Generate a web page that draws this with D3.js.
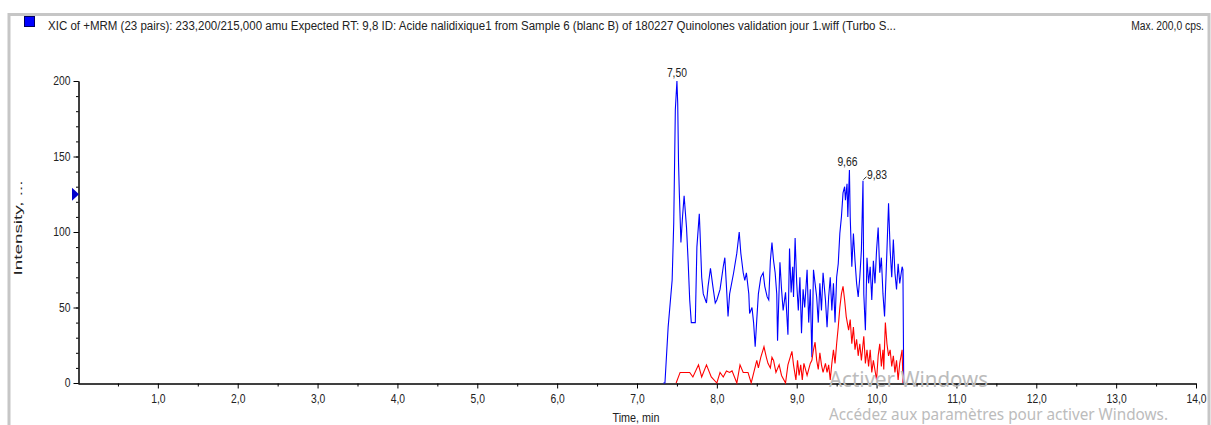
<!DOCTYPE html>
<html>
<head>
<meta charset="utf-8">
<script src="https://cdn.jsdelivr.net/npm/d3@7"></script>
<style>
body { margin: 0; background: #fff; }
svg { display: block; font-family: "Liberation Sans", Arial, sans-serif; }
</style>
</head>
<body>
<svg width="1211" height="425"></svg>
<script>
// XIC trace (blue), time in min / intensity in cps
const blueTimes = [7.33,7.35,7.39,7.44,7.46,7.47,7.48,7.50,7.51,7.52,7.53,7.55,7.57,7.59,7.62,7.64,7.66,7.68,
  7.73,7.75,7.78,7.79,7.81,7.83,7.87,7.89,7.92,7.95,7.98,8.00,8.04,8.08,8.10,8.12,8.14,8.16,8.21,8.25,
  8.28,8.30,8.33,8.35,8.37,8.40,8.41,8.44,8.46,8.48,8.50,8.52,8.55,8.58,8.60,8.63,8.65,8.67,8.69,8.71,
  8.73,8.75,8.76,8.79,8.81,8.83,8.86,8.89,8.91,8.93,8.95,8.96,8.98,9.00,9.02,9.04,9.06,9.08,9.10,9.13,
  9.15,9.17,9.19,9.21,9.23,9.25,9.27,9.29,9.31,9.33,9.36,9.38,9.40,9.42,9.44,9.46,9.48,9.50,9.52,9.54,
  9.56,9.58,9.60,9.61,9.63,9.64,9.66,9.67,9.69,9.71,9.73,9.75,9.77,9.79,9.81,9.83,9.84,9.86,9.88,9.90,
  9.92,9.94,9.96,9.98,10.00,10.02,10.04,10.06,10.08,10.10,10.13,10.15,10.17,10.19,10.21,10.23,10.25,10.27,10.29,10.32,
  10.33,10.34];
const blueValues = [0,0,37,68,106,143,181,200,185,146,126,93,110,124,103,81,55,40,
  40,90,112,99,70,59,53,64,76,64,53,55,62,77,83,64,44,59,73,86,
  100,86,73,68,73,59,46,50,40,24,42,59,70,73,64,57,55,81,93,81,
  73,59,28,80,62,48,60,32,89,60,77,57,96,66,48,70,33,62,50,75,
  40,62,17,75,66,57,40,66,48,73,55,37,57,70,48,66,40,70,79,99,
  110,126,130,121,132,110,141,110,77,99,81,66,57,70,88,134,59,35,83,66,
  77,55,81,66,88,103,73,83,59,44,88,119,88,70,95,73,62,79,66,77,
  75,0];

// second transition (red)
const redTimes = [7.49,7.54,7.66,7.70,7.77,7.81,7.87,7.93,8.00,8.04,
  8.08,8.12,8.16,8.19,8.25,8.29,8.33,8.39,8.43,8.50,
  8.52,8.55,8.59,8.62,8.64,8.67,8.69,8.71,8.74,8.78,
  8.81,8.86,8.89,8.94,8.96,8.99,9.01,9.03,9.05,9.07,
  9.09,9.13,9.15,9.17,9.19,9.21,9.23,9.25,9.27,9.29,
  9.31,9.33,9.36,9.38,9.40,9.42,9.44,9.46,9.48,9.50,
  9.52,9.54,9.56,9.58,9.60,9.62,9.65,9.67,9.69,9.71,
  9.73,9.75,9.77,9.79,9.81,9.84,9.86,9.88,9.90,9.92,
  9.94,9.96,10.00,10.02,10.04,10.06,10.08,10.09,10.11,10.13,
  10.15,10.17,10.19,10.21,10.23,10.25,10.27,10.29,10.32,10.33];
const redValues = [0,7,7,4,12,4,12,4,0,7,
  4,8,7,8,0,12,7,7,0,15,
  10,17,24,17,13,10,17,15,7,12,
  5,0,12,21,12,2,15,5,12,2,
  13,5,9,13,15,22,27,15,9,20,
  12,7,13,7,12,2,13,22,13,26,
  37,50,59,64,55,44,35,42,26,37,
  22,29,18,26,15,31,13,22,11,22,
  7,15,2,18,26,11,22,9,40,26,
  18,22,11,18,7,15,2,13,22,0];

const peakTimes = [7.50, 9.66, 9.83];
const xMajorTicks = d3.range(1, 15);
const xMinorTicks = d3.range(0.5, 14, 1);
const yMajorTicks = [0, 50, 100, 150, 200];
const yMinorTicks = d3.range(0, 201, 10);
const expectedMark = 125;

const titleText = "XIC of +MRM (23 pairs): 233,200/215,000 amu Expected RT: 9,8 ID: Acide nalidixique1 from Sample 6 (blanc B) of 180227 Quinolones validation jour 1.wiff (Turbo S...";
const maxText = "Max. 200,0 cps.";

const svg = d3.select("svg");
const x = d3.scaleLinear().domain([0, 14]).range([78, 1196]);
const y = d3.scaleLinear().domain([0, 200]).range([383, 81]);
const comma = v => d3.format(".1f")(v).replace(".", ",");

// squeeze text horizontally like the screenshot
function squeeze(sel, k) {
  sel.each(function() {
    const w = this.getComputedTextLength();
    d3.select(this).attr("textLength", w * k).attr("lengthAdjust", "spacingAndGlyphs");
  });
}

svg.append("rect").attr("width", 1211).attr("height", 425).attr("fill", "#fff");
svg.append("rect")
  .attr("x", 9).attr("y", 14.5).attr("width", 1200).attr("height", 440)
  .attr("fill", "none").attr("stroke", "#c6c6c6").attr("stroke-width", 3);

// header
svg.append("rect").attr("x", 24.5).attr("y", 16.5).attr("width", 10).attr("height", 10)
  .attr("fill", "#0000ff").attr("stroke", "#000060");
svg.append("text").attr("x", 48).attr("y", 30).attr("font-size", 12).attr("fill", "#222")
  .attr("textLength", 848).attr("lengthAdjust", "spacingAndGlyphs").text(titleText);
svg.append("text").attr("x", 1204).attr("y", 30).attr("font-size", 12).attr("fill", "#222")
  .attr("text-anchor", "end").text(maxText).call(squeeze, 0.86);

// axes
const gx = svg.append("g").attr("transform", "translate(0,383.5)");
gx.append("g").call(d3.axisBottom(x).tickValues(xMinorTicks).tickSize(3).tickSizeOuter(0).tickFormat(""));
gx.append("g").call(d3.axisBottom(x).tickValues(xMajorTicks).tickSize(5).tickSizeOuter(0).tickPadding(6).tickFormat(comma));

const gy = svg.append("g").attr("transform", "translate(78.5,0)");
gy.append("g").call(d3.axisLeft(y).tickValues(yMinorTicks).tickSize(2.5).tickSizeOuter(0).tickFormat(""));
gy.append("g").call(d3.axisLeft(y).tickValues(yMajorTicks).tickSize(5).tickSizeOuter(0).tickPadding(3).tickFormat(d3.format("d")));

svg.selectAll(".tick text").attr("font-size", 12).attr("fill", "#222").attr("font-family", null).call(squeeze, 0.86);
svg.selectAll(".domain, .tick line").attr("stroke", "#000");

svg.append("text").attr("x", 636).attr("y", 422).attr("font-size", 12).attr("fill", "#222")
  .attr("text-anchor", "middle").text("Time, min").call(squeeze, 0.9);
svg.append("text").attr("transform", "translate(22,228) rotate(-90)").attr("font-size", 11).attr("fill", "#222")
  .attr("text-anchor", "middle").attr("textLength", 95).attr("lengthAdjust", "spacingAndGlyphs").text("Intensity, ...");

// expected RT marker
const my = y(expectedMark);
svg.append("path").attr("d", `M72,${my - 6.5}L79,${my}L72,${my + 6.5}Z`).attr("fill", "#0000cc");

// traces
const line = d3.line().x(d => x(d[0])).y(d => y(d[1]));
svg.append("path").datum(d3.zip(blueTimes, blueValues))
  .attr("d", line).attr("fill", "none").attr("stroke", "#0000ff").attr("stroke-width", 1.1);
svg.append("path").datum(d3.zip(redTimes, redValues))
  .attr("d", line).attr("fill", "none").attr("stroke", "#ff0000").attr("stroke-width", 1.1);

// peak labels
peakTimes.forEach((t, i) => {
  const j = d3.minIndex(blueTimes, d => Math.abs(d - t));
  const px = x(blueTimes[j]), py = y(blueValues[j]);
  const lbl = d3.format(".2f")(t).replace(".", ",");
  if (i < 2) {
    svg.append("text").attr("x", px - (i ? 2 : 0)).attr("y", py - 4).attr("font-size", 12).attr("fill", "#222")
      .attr("text-anchor", "middle").text(lbl).call(squeeze, 0.86);
  } else {
    svg.append("path").attr("d", `M${px + 0.5},${py - 1}L${px + 3.5},${py - 4}`).attr("stroke", "#222").attr("fill", "none");
    svg.append("text").attr("x", px + 4).attr("y", py - 2).attr("font-size", 12).attr("fill", "#222")
      .text(lbl).call(squeeze, 0.86);
  }
});

// activation watermark on top
const wm = svg.append("g").attr("font-family", "'Noto Sans', 'Open Sans', sans-serif").attr("fill", "#bcbcbc");
wm.append("text").attr("x", 829).attr("y", 387).attr("font-size", 21)
  .attr("textLength", 159).attr("lengthAdjust", "spacingAndGlyphs").text("Activer Windows");
wm.append("text").attr("x", 829).attr("y", 420).attr("font-size", 15.5)
  .attr("textLength", 339).attr("lengthAdjust", "spacingAndGlyphs").text("Accédez aux paramètres pour activer Windows.");
</script>
</body>
</html>
